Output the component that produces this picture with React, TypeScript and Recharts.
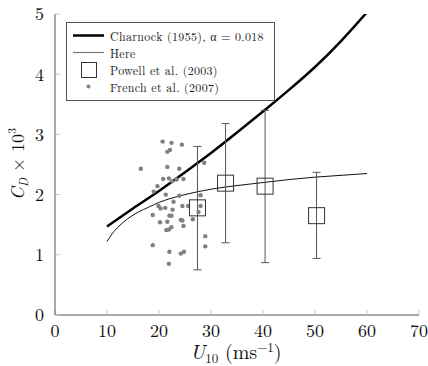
import { ComposedChart, Line, Scatter, ErrorBar, XAxis, YAxis, Legend, Label } from 'recharts';

// Charnock (1955), alpha = 0.018
const charnockU = [10, 15, 20, 25, 30, 35, 40, 45, 50, 55, 60];
const charnockCd = [1.47, 1.77, 2.06, 2.37, 2.69, 3.03, 3.38, 3.74, 4.12, 4.55, 5.03];

// "Here" model curve
const hereU = [10, 11, 12, 13, 14, 16, 18, 20, 22, 25, 30, 35, 40, 45, 50, 55, 60];
const hereCd = [1.22, 1.35, 1.45, 1.53, 1.6, 1.71, 1.79, 1.87, 1.93, 2.0, 2.09, 2.15, 2.2, 2.25, 2.29, 2.32, 2.35];

// Powell et al. (2003) with error ranges
const powellU = [27.4, 32.8, 40.4, 50.3];
const powellCd = [1.78, 2.19, 2.14, 1.65];
const powellLow = [0.75, 1.2, 0.87, 0.94];
const powellHigh = [2.8, 3.18, 3.4, 2.37];

// French et al. (2007)
const frenchU = [
  20.7, 22.4, 24.4, 22.1, 21.6, 16.5, 21.6, 23.9, 28.7, 20.8, 21.9, 22.5, 23.4, 24.7,
  19.7, 19.0, 21.3, 23.9, 28.0, 22.8, 19.9, 21.2, 20.3, 22.6, 24.5, 25.6, 28.0, 27.6,
  18.8, 22.0, 22.4, 20.2, 21.6, 24.2, 24.5, 26.5, 24.7, 22.4, 21.4, 21.9, 28.9, 18.8,
  28.9, 22.0, 24.2, 24.8, 21.9,
];
const frenchCd = [
  2.88, 2.86, 2.83, 2.74, 2.71, 2.43, 2.46, 2.43, 2.53, 2.26, 2.27, 2.22, 2.25, 2.26,
  2.14, 2.05, 2.0, 1.98, 1.99, 1.88, 1.81, 1.78, 1.77, 1.75, 1.81, 1.81, 1.81, 1.71,
  1.66, 1.65, 1.65, 1.54, 1.55, 1.58, 1.57, 1.59, 1.48, 1.46, 1.41, 1.42, 1.31, 1.16,
  1.14, 1.05, 1.02, 1.05, 0.85,
];

const xTicks = [0, 10, 20, 30, 40, 50, 60, 70];
const yTicks = [0, 1, 2, 3, 4, 5];

const charnockData = charnockU.map((u, i) => ({ u, cd: charnockCd[i] }));
const hereData = hereU.map((u, i) => ({ u, cd: hereCd[i] }));
const powellData = powellU.map((u, i) => ({
  u,
  cd: powellCd[i],
  err: [powellCd[i] - powellLow[i], powellHigh[i] - powellCd[i]],
}));
const frenchData = frenchU.map((u, i) => ({ u, cd: frenchCd[i] }));

const serif =
  "'Latin Modern Roman', 'CMU Serif', 'Liberation Serif', 'DejaVu Serif', 'Times New Roman', 'Nimbus Roman', Times, serif";
const frame = '#555';
const tickGray = '#c8c8c8';
const dotGray = '#808080';

function SquareShape(props: any) {
  const { cx, cy } = props;
  return <rect x={cx - 8} y={cy - 8} width={16} height={16} fill="none" stroke="#333" strokeWidth={1} />;
}

function DotShape(props: any) {
  const { cx, cy } = props;
  return <circle cx={cx} cy={cy} r={2.2} fill={dotGray} />;
}

function LegendBox() {
  const rows = [
    { label: 'Charnock (1955), α = 0.018', kind: 'thick' },
    { label: 'Here', kind: 'thin' },
    { label: 'Powell et al. (2003)', kind: 'square' },
    { label: 'French et al. (2007)', kind: 'dot' },
  ];
  return (
    <div
      style={{
        border: `1px solid ${frame}`,
        background: '#fff',
        width: 207,
        padding: '4px 0 5px 0',
        fontFamily: serif,
        fontSize: 12,
        color: '#222',
      }}
    >
      {rows.map((r) => (
        <div key={r.label} style={{ display: 'flex', alignItems: 'center', height: 17 }}>
          <svg width={43} height={17} style={{ flex: 'none' }}>
            {r.kind === 'thick' && <line x1={6} y1={8.5} x2={37} y2={8.5} stroke="#000" strokeWidth={2.5} />}
            {r.kind === 'thin' && <line x1={6} y1={8.5} x2={37} y2={8.5} stroke="#777" strokeWidth={1.2} />}
            {r.kind === 'square' && <rect x={14.5} y={1.5} width={15} height={15} fill="none" stroke="#333" />}
            {r.kind === 'dot' && <circle cx={21.5} cy={8.5} r={2} fill={dotGray} />}
          </svg>
          <span style={{ whiteSpace: 'nowrap', letterSpacing: 0.3 }}>{r.label}</span>
        </div>
      ))}
    </div>
  );
}

function YTitle() {
  return (
    <text transform="translate(24 164) rotate(-90)" textAnchor="middle" fontFamily={serif} fontSize={18} fill="#111">
      <tspan fontStyle="italic">C</tspan>
      <tspan fontStyle="italic" fontSize={12} dy={4}>D</tspan>
      <tspan dy={-4}> × 10</tspan>
      <tspan fontSize={12} dy={-8}>3</tspan>
    </text>
  );
}

function XTitle() {
  return (
    <text x={236} y={359} textAnchor="middle" fontFamily={serif} fontSize={20} fill="#111">
      <tspan fontStyle="italic">U</tspan>
      <tspan fontSize={13} dy={4}>10</tspan>
      <tspan dy={-4}> (ms</tspan>
      <tspan fontSize={13} dy={-7}>−1</tspan>
      <tspan dy={7}>)</tspan>
    </text>
  );
}

export default function App() {
  const tickStyle = { fill: '#111', fontSize: 18, fontFamily: serif };
  return (
    <div style={{ width: 428, height: 366, background: '#fff' }}>
      <style>{'body{margin:0}'}</style>
      <ComposedChart width={428} height={366} margin={{ top: 14, right: 9, left: 0, bottom: 0 }}>
        <XAxis
          xAxisId={0}
          dataKey="u"
          type="number"
          domain={[0, 70]}
          ticks={xTicks}
          height={51}
          tick={tickStyle}
          tickSize={-5}
          tickMargin={14}
          tickLine={{ stroke: tickGray }}
          axisLine={{ stroke: frame }}
        >
          <Label content={XTitle} />
        </XAxis>
        <XAxis
          xAxisId="top"
          orientation="top"
          dataKey="u"
          type="number"
          domain={[0, 70]}
          ticks={xTicks}
          height={0}
          tickFormatter={() => ''}
          tickSize={-5}
          tickLine={{ stroke: tickGray }}
          axisLine={{ stroke: frame }}
        />
        <YAxis
          yAxisId={0}
          type="number"
          domain={[0, 5]}
          allowDataOverflow
          ticks={yTicks}
          width={55}
          tick={tickStyle}
          tickSize={-5}
          tickMargin={16}
          tickLine={{ stroke: tickGray }}
          axisLine={{ stroke: frame }}
        >
          <Label content={YTitle} />
        </YAxis>
        <YAxis
          yAxisId="right"
          orientation="right"
          type="number"
          domain={[0, 5]}
          ticks={yTicks}
          width={0}
          tickFormatter={() => ''}
          tickSize={-5}
          tickLine={{ stroke: tickGray }}
          axisLine={{ stroke: frame }}
        />
        <Legend
          layout="vertical"
          align="center"
          verticalAlign="middle"
          wrapperStyle={{ top: 22, left: 66, width: 'auto' }}
          content={() => <LegendBox />}
        />
        <Scatter data={frenchData} dataKey="cd" shape={DotShape} isAnimationActive={false} />
        <Line
          data={hereData}
          dataKey="cd"
          type="monotone"
          stroke="#111"
          strokeWidth={1}
          dot={false}
          isAnimationActive={false}
        />
        <Line
          data={charnockData}
          dataKey="cd"
          type="natural"
          stroke="#000"
          strokeWidth={2.5}
          dot={false}
          isAnimationActive={false}
        />
        <Scatter data={powellData} dataKey="cd" shape={SquareShape} isAnimationActive={false}>
          <ErrorBar dataKey="err" direction="y" width={4} stroke="#555" strokeWidth={1} />
        </Scatter>
      </ComposedChart>
    </div>
  );
}
